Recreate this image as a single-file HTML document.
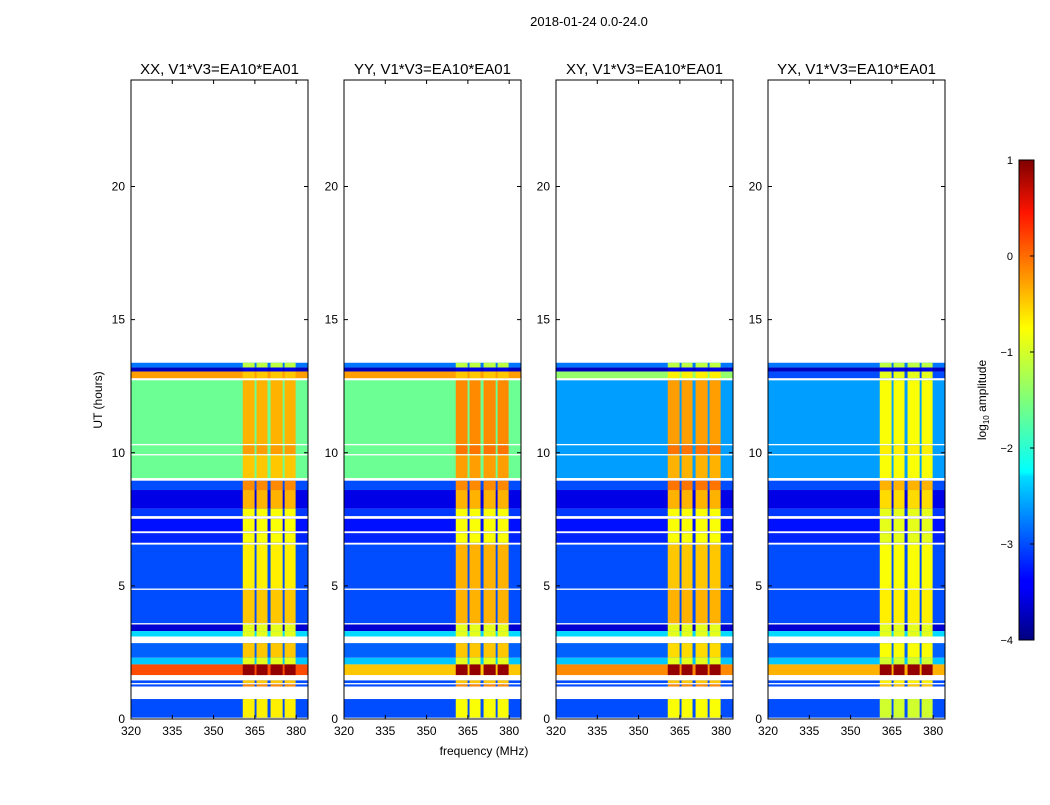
<!DOCTYPE html>
<html><head><meta charset="utf-8">
<style>
body{margin:0;background:#fff;font-family:"Liberation Sans",sans-serif;}
svg text{font-family:"Liberation Sans",sans-serif;fill:#000;}
</style></head>
<body>
<svg id="fig" width="1050" height="800" xmlns="http://www.w3.org/2000/svg">
<defs>
<linearGradient id="jet" x1="0" y1="1" x2="0" y2="0">
<stop offset="0" stop-color="#00007f"/><stop offset="0.11" stop-color="#0000ff"/>
<stop offset="0.125" stop-color="#0000ff"/><stop offset="0.34" stop-color="#00dcff"/>
<stop offset="0.35" stop-color="#0ff"/><stop offset="0.5" stop-color="#7fff7a"/>
<stop offset="0.65" stop-color="#ff0"/><stop offset="0.89" stop-color="#ff1400"/>
<stop offset="1" stop-color="#7f0000"/></linearGradient>
</defs>
<text x="589" y="26" font-size="13" text-anchor="middle">2018-01-24 0.0-24.0</text>
</svg>
<script>
const panelTitles=["XX, V1*V3=EA10*EA01","YY, V1*V3=EA10*EA01","XY, V1*V3=EA10*EA01","YX, V1*V3=EA10*EA01"];
const xTicks=[320,335,350,365,380];
const yTicks=[0,5,10,15,20];
const cbTicks=[1,0,-1,-2,-3,-4];
const bandStart=[13.2,13.05,12.8,10.33,9.95,9.05,8.6,7.9,7.62,7.05,6.62,4.9,3.6,3.3,3.1,2.3,2.05,1.65,1.35,1.22,0.05];
const bandEnd  =[13.38,13.2,13.05,12.72,10.28,9.9,8.95,8.6,7.9,7.52,6.98,6.55,4.85,3.55,3.3,2.85,2.3,2.05,1.45,1.3,0.75];
const bgXX=[-2.8,-3.7,-0.4,-1.6,-1.6,-1.6,-3,-3.5,-3.1,-3.3,-3.2,-3,-3,-3.6,-2.3,-2.9,-2.4,0,-3,-3,-3];
const bgYY=[-2.8,-3.7,-0.4,-1.6,-1.6,-1.6,-3,-3.5,-3.1,-3.3,-3.2,-3,-3,-3.6,-2.3,-2.9,-2.4,-0.6,-3,-3,-3];
const bgXY=[-2.8,-3.7,-1.4,-2.6,-2.6,-2.6,-3,-3.5,-3.1,-3.3,-3.2,-3,-3,-3.6,-2.3,-2.9,-2.4,-0.3,-3,-3,-3];
const bgYX=[-2.8,-3.7,-3.0,-2.6,-2.6,-2.6,-3,-3.5,-3.1,-3.3,-3.2,-3,-3,-3.6,-2.3,-2.9,-2.4,-0.5,-3,-3,-3];
const chXX=[-1.2,-3.5,-0.6,-0.5,-0.4,-0.6,-0.3,-0.5,-0.9,-0.9,-0.9,-0.8,-0.6,-1,-1,-0.6,-1,0.9,-0.6,-0.3,-0.8];
const chYY=[-1.2,-3.5,-0.6,-0.3,-0.2,-0.4,-0.3,-0.5,-0.9,-0.9,-0.9,-0.5,-0.5,-1,-1,-0.6,-1,0.9,-0.6,-0.3,-0.9];
const chXY=[-1.2,-3.5,-0.8,-0.4,-0.2,-0.5,-0.2,-0.5,-0.9,-0.9,-0.9,-0.6,-0.5,-1,-1,-0.7,-1,0.9,-0.6,-0.3,-0.9];
const chYX=[-1.2,-3.5,-1.0,-0.9,-0.8,-0.9,-0.5,-0.7,-1,-1,-1,-0.9,-0.8,-1,-1,-0.9,-1.1,0.9,-0.8,-0.6,-1.1];
const chanLo=[360.6,365.6,370.7,375.8];
const chanHi=[364.9,369.6,375.1,379.8];
const bgs=[bgXX,bgYY,bgXY,bgYX], chs=[chXX,chYY,chXY,chYX];

const NS="http://www.w3.org/2000/svg", svg=document.getElementById('fig');
function mk(tag,attrs,parent){const e=document.createElementNS(NS,tag);for(const k in attrs)e.setAttribute(k,attrs[k]);(parent||svg).appendChild(e);return e;}
function jet(v){let t=Math.max(0,Math.min(1,(v+4)/5));
 const f=x=>Math.max(0,Math.min(1,x));
 const r=f(1.5-Math.abs(4*t-3)),g=f(1.5-Math.abs(4*t-2)),b=f(1.5-Math.abs(4*t-1));
 return `rgb(${Math.round(r*255)},${Math.round(g*255)},${Math.round(b*255)})`;}
const lefts=[131,344,556,768], W=177, pTop=80, pBot=719, fMin=320, fMax=384.3;
const yS=h=>pBot-(h/24)*(pBot-pTop);
lefts.forEach((L,p)=>{
 const xS=f=>L+(f-fMin)/(fMax-fMin)*W;
 const g=mk('g',{});
 
 
 for(let i=0;i<bandStart.length;i++){
  const y1=yS(bandEnd[i]),y2=yS(bandStart[i]);
  const r=mk('rect',{x:L,y:y1,width:W,height:y2-y1,fill:jet(bgs[p][i])},g);
  
  
  for(let c=0;c<chanLo.length;c++){
   const cr=mk('rect',{x:xS(chanLo[c]),y:y1,width:xS(chanHi[c])-xS(chanLo[c]),height:y2-y1,fill:jet(chs[p][i])},g);
   
   
  }
 }
 mk('rect',{x:L,y:pTop,width:W,height:pBot-pTop,fill:'none',stroke:'#000','stroke-width':1},g);
 xTicks.forEach(f=>{const x=xS(f);
  mk('line',{x1:x,x2:x,y1:pBot,y2:pBot-4,stroke:'#000'},g);mk('line',{x1:x,x2:x,y1:pTop,y2:pTop+4,stroke:'#000'},g);
  const t=mk('text',{x:x,y:pBot+16,'font-size':12,'text-anchor':'middle'},g);t.textContent=f;
  
  });
 yTicks.forEach(h=>{const y=yS(h);
  mk('line',{x1:L,x2:L+4,y1:y,y2:y,stroke:'#000'},g);mk('line',{x1:L+W,x2:L+W-4,y1:y,y2:y,stroke:'#000'},g);
  const t=mk('text',{x:L-6,y:y+4,'font-size':12,'text-anchor':'end'},g);t.textContent=h;
  
  });
 const tt=mk('text',{x:L+W/2,y:74,'font-size':15,'text-anchor':'middle'},g);tt.textContent=panelTitles[p];
 
 
});
const xl=mk('text',{x:484,y:755,'font-size':12,'text-anchor':'middle'});xl.textContent='frequency (MHz)';


const yl=mk('text',{x:102,y:400,'font-size':12,'text-anchor':'middle',transform:'rotate(-90 102 400)'});yl.textContent='UT (hours)';


const cbT=160,cbB=640,cbL=1019,cbW=15;
const cb=mk('rect',{x:cbL,y:cbT,width:cbW,height:cbB-cbT,fill:'url(#jet)',stroke:'#000'});


cbTicks.forEach(v=>{const y=cbB-(v+4)/5*(cbB-cbT);
 mk('line',{x1:cbL+cbW-4,x2:cbL+cbW,y1:y,y2:y,stroke:'#000'});
 const t=mk('text',{x:1013,y:y+4,'font-size':11,'text-anchor':'end'});t.textContent=v<0?'\u2212'+(-v):v;
 
 });
const cl=mk('text',{x:986,y:400,'font-size':12,'text-anchor':'middle',transform:'rotate(-90 986 400)'});
cl.innerHTML='log<tspan font-size="8" dy="3">10</tspan><tspan dy="-3"> amplitude</tspan>';


</script>
</body></html>
